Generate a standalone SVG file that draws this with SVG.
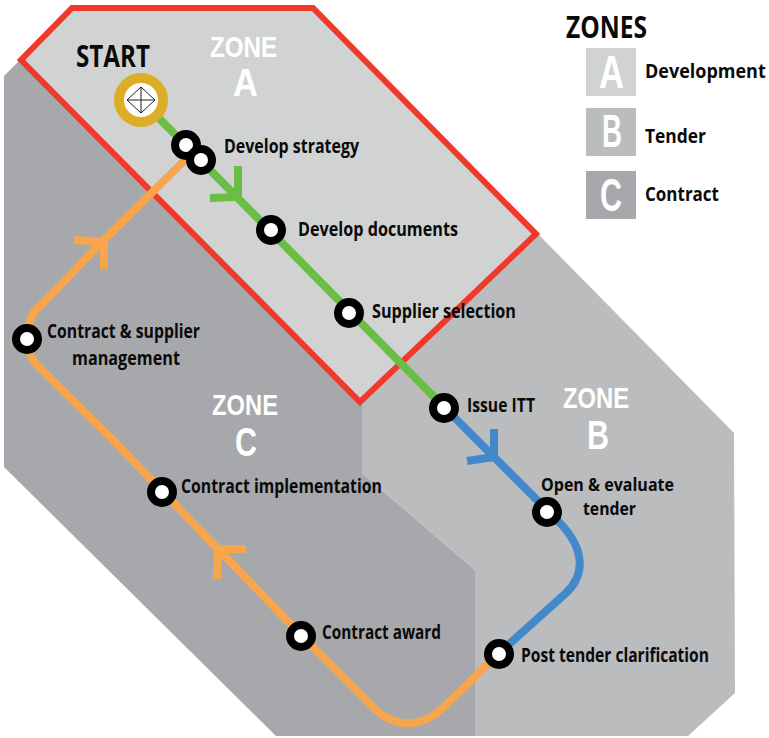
<svg xmlns="http://www.w3.org/2000/svg" width="769" height="738" viewBox="0 0 769 738">
<style>
text{font-family:"Open Sans","Noto Sans","Liberation Sans",sans-serif;font-weight:700;fill:#0a0a0a;font-size:20px}
.h{font-size:31px}
.s{font-size:18px}
.zt,.zl,.sw{font-family:"Liberation Sans","Open Sans",sans-serif;fill:#fff}
.zt{font-size:30px}
.zl{font-size:38px}
.zb{font-size:40px}
.sw{font-size:46px}
.line{fill:none;stroke-width:8;stroke-linejoin:miter}
.g{stroke:#6abd45}.b{stroke:#4389c9}.o{stroke:#f7a64d}
.stn{fill:#fff;stroke:#000;stroke-width:8}
</style>
<g id="zones">
<polygon id="zone-c" points="4,76 20,60 362,404 362,473 475,570 475,736 276,736 4,467" fill="#a7a8ab"/>
<polygon id="zone-b" points="538,234 734,433 735,693 688,736 475,736 475,570 362,473 362,404" fill="#bbbcbe"/>
<polygon id="zone-a" points="72,8 313,8 536,234 360,402 21,60" fill="#d1d3d3" stroke="#f1392b" stroke-width="6"/>
</g>
<g id="connectors">
<path class="line g" d="M141,100 L444,407"/>
<path class="line b" d="M444,407 L558,521 C586,549 585,575 566,593 L498,654"/>
<path class="line o" d="M498,654 L445,706 C422,729 394,729 372,706 L301,635 L162,491 L113,440 L38,366 C30,358 27,348 27,339 C27,328 29,320 34,312 L103,241 L190,155"/>
<path class="line g" d="M238,166 V197 L210,198"/>
<path class="line b" d="M494,429 V457 L467,461"/>
<path class="line o" d="M74,240 L104,242 V269"/>
<path class="line o" d="M217,579 L218,549 H246"/>
</g>
<g id="start"><circle cx="141" cy="100" r="22" fill="#fff" stroke="#dcae27" stroke-width="10"/>
<path d="M141,87 L155,100 L141,113 L127,100Z M141,87V113M127,100H155" fill="none" stroke="#222" stroke-width="1"/>
<text class="h" x="76" y="67" textLength="74" lengthAdjust="spacingAndGlyphs">START</text></g>
<g id="n1"><circle class="stn" cx="186" cy="145" r="11"/></g>
<g id="n2"><circle class="stn" cx="201" cy="160" r="11"/><text x="224" y="153" textLength="135" lengthAdjust="spacingAndGlyphs">Develop strategy</text></g>
<g id="n3"><circle class="stn" cx="271" cy="230" r="11"/><text x="298" y="236" textLength="160" lengthAdjust="spacingAndGlyphs">Develop documents</text></g>
<g id="n4"><circle class="stn" cx="349" cy="313" r="11"/><text x="372" y="318" textLength="144" lengthAdjust="spacingAndGlyphs">Supplier selection</text></g>
<g id="n5"><circle class="stn" cx="444" cy="408" r="11"/><text x="467" y="412" textLength="68" lengthAdjust="spacingAndGlyphs">Issue ITT</text></g>
<g id="n6"><circle class="stn" cx="547" cy="512" r="11"/><text class="s" x="541" y="491" textLength="133" lengthAdjust="spacingAndGlyphs">Open &amp; evaluate</text><text class="s" x="583" y="515" textLength="53" lengthAdjust="spacingAndGlyphs">tender</text></g>
<g id="n7"><circle class="stn" cx="499" cy="654" r="11"/><text x="521" y="662" textLength="188" lengthAdjust="spacingAndGlyphs">Post tender clarification</text></g>
<g id="n8"><circle class="stn" cx="301" cy="636" r="11"/><text x="322" y="639" textLength="119" lengthAdjust="spacingAndGlyphs">Contract award</text></g>
<g id="n9"><circle class="stn" cx="162" cy="492" r="11"/><text x="181" y="493" textLength="201" lengthAdjust="spacingAndGlyphs">Contract implementation</text></g>
<g id="n10"><circle class="stn" cx="27" cy="339" r="11"/><text x="47" y="338" textLength="153" lengthAdjust="spacingAndGlyphs">Contract &amp; supplier</text><text x="72" y="365" textLength="108" lengthAdjust="spacingAndGlyphs">management</text></g>
<g id="zone-labels">
<text class="zt" x="210" y="57" textLength="67" lengthAdjust="spacingAndGlyphs">ZONE</text><text class="zl" x="233" y="96" textLength="25" lengthAdjust="spacingAndGlyphs">A</text>
<text class="zt" x="563" y="408" textLength="66" lengthAdjust="spacingAndGlyphs">ZONE</text><text class="zl zb" x="587" y="449" textLength="22" lengthAdjust="spacingAndGlyphs">B</text>
<text class="zt" x="212" y="415" textLength="66" lengthAdjust="spacingAndGlyphs">ZONE</text><text class="zl zb" x="235" y="456" textLength="22" lengthAdjust="spacingAndGlyphs">C</text>
</g>
<g id="legend">
<text class="h" x="566" y="38" textLength="81" lengthAdjust="spacingAndGlyphs">ZONES</text>
<g id="leg-a"><rect x="586" y="48" width="50" height="48" fill="#d1d3d3"/><text class="sw" x="599" y="88" textLength="25" lengthAdjust="spacingAndGlyphs">A</text><text transform="translate(645 78) scale(.9 1)">Development</text></g>
<g id="leg-b"><rect x="586" y="108" width="50" height="48" fill="#bbbcbe"/><text class="sw" x="602" y="147" textLength="20" lengthAdjust="spacingAndGlyphs">B</text><text x="645" y="143" textLength="61" lengthAdjust="spacingAndGlyphs">Tender</text></g>
<g id="leg-c"><rect x="586" y="171" width="50" height="48" fill="#a7a8ab"/><text class="sw" x="600" y="211" textLength="22" lengthAdjust="spacingAndGlyphs">C</text><text x="645" y="201" textLength="74" lengthAdjust="spacingAndGlyphs">Contract</text></g>
</g>
</svg>
